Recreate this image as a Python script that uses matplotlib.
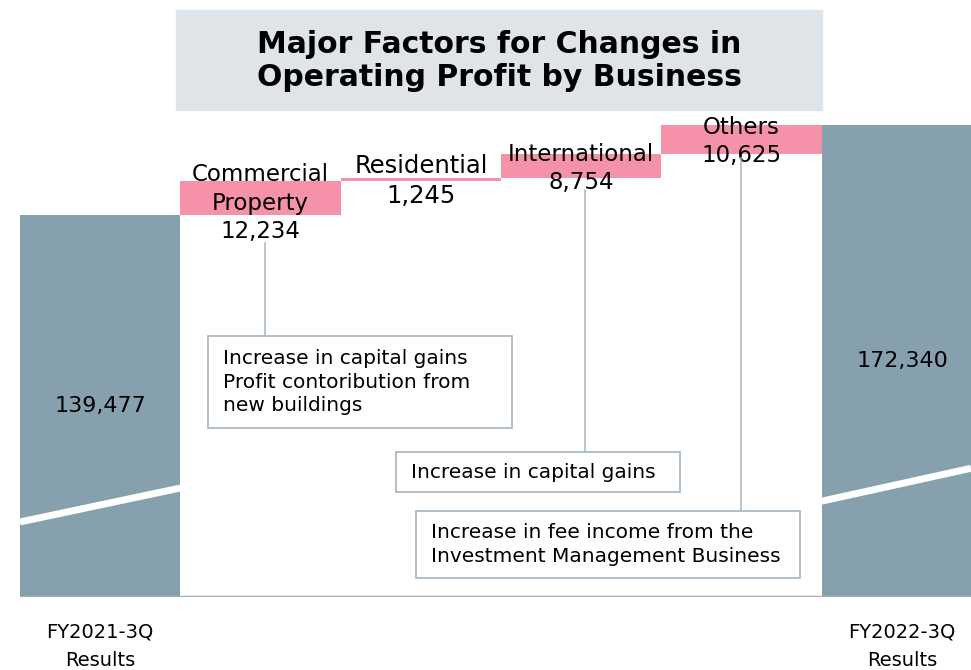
import matplotlib.pyplot as plt
from matplotlib.patches import Rectangle

# data
categories = ["FY2021-3Q", "Commercial\nProperty", "Residential",
              "International", "Others", "FY2022-3Q"]
start_value = 139477
end_value = 172340
changes = [12234, 1245, 8754, 10625]
notes = ["Increase in capital gains\nProfit contoribution from\nnew buildings",
         "Increase in capital gains",
         "Increase in fee income from the\nInvestment Management Business"]

W, H = 971, 670
fig = plt.figure(figsize=(W / 100, H / 100), dpi=100)


def fx(px):
    return px / W


def fy(py):
    return 1 - py / H


# axes: left edge of first bar to right edge of image, baseline at y=597px
ax = fig.add_axes([fx(20), fy(597), fx(971) - fx(20), 597 / H])
ax.set_xlim(-0.5, 5.43)
ax.set_ylim(0, 597 / (382 / start_value))
ax.axis("off")

grey = "#86a0ae"
pink = "#f592a9"
line_col = "#a3b5c1"

# totals
ax.bar([0, 5], [start_value, end_value], width=1.0, color=grey)

# increments
bottoms = []
run = start_value
for c in changes:
    bottoms.append(run)
    run += c
xs = [1, 2, 3, 4]
ax.bar(xs, changes, bottom=bottoms, width=1.0, color=pink)

# broken-axis white slashes
ax.plot([-0.5, 0.5], [27400, 39800], color="white", lw=5, solid_capstyle="butt")
ax.plot([4.5, 5.43], [35000, 47000], color="white", lw=5, solid_capstyle="butt")

# baseline
ax.axhline(0, color="#9fb1bd", lw=2.5)

# total labels
ax.text(0, start_value * 0.50, f"{start_value:,}", ha="center", va="center", fontsize=16)
ax.text(5.0, end_value * 0.50, f"{end_value:,}", ha="center", va="center", fontsize=16)

# increment labels
label_off = [13, 17, 8, 6.5]  # points above bar top
label_size = [16.5, 17.5, 16.5, 16.5]
for x, b, c, name, off, fs in zip(xs, bottoms, changes, categories[1:5], label_off, label_size):
    ax.annotate(f"{name}\n{c:,}", (x, b + c), xytext=(0, off), textcoords="offset points",
                ha="center", va="top", fontsize=fs, linespacing=1.3)

# category labels below
for px, name in [(100, categories[0]), (902, categories[5])]:
    fig.text(fx(px), fy(632), name, ha="center", va="center", fontsize=14)
    fig.text(fx(px), fy(661), "Results", ha="center", va="center", fontsize=14)

# title box
fig.patches.append(Rectangle((fx(176), fy(110)), fx(822) - fx(176), fy(10) - fy(110),
                             transform=fig.transFigure, color="#dee4e7", zorder=0))
fig.text(fx(499), fy(61), "Major Factors for Changes in\nOperating Profit by Business",
         ha="center", va="center", fontsize=21.5, fontweight="bold", linespacing=1.2)

# note boxes (left, top, right, bottom in px) and connectors
boxes = [(208, 336, 512, 428), (396, 452, 680, 492), (416, 511, 800, 578)]
conn = [(265, 243), (585, 190), (741, 158)]
for (l, t, r, b), (cx, cy), txt in zip(boxes, conn, notes):
    fig.patches.append(Rectangle((fx(l), fy(b)), fx(r) - fx(l), fy(t) - fy(b),
                                 transform=fig.transFigure, facecolor="white",
                                 edgecolor=line_col, lw=1.2, zorder=3))
    fig.lines.append(plt.Line2D([fx(cx), fx(cx)], [fy(cy), fy(t)],
                                transform=fig.transFigure, color=line_col, lw=1.1))
    fig.text(fx(l + 15), fy((t + b) / 2), txt, ha="left", va="center",
             fontsize=14.5, linespacing=1.3, zorder=4)

fig.savefig("out.png", dpi=100)
